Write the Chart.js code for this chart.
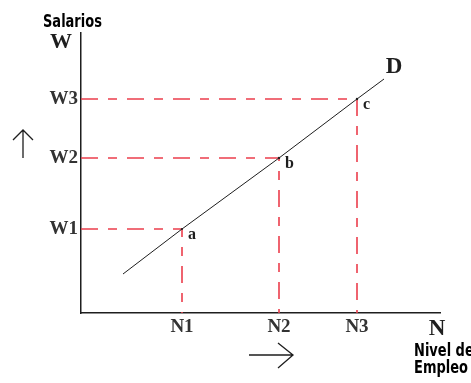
<!DOCTYPE html>
<html>
<head>
<meta charset="utf-8">
<script src="https://cdn.jsdelivr.net/npm/chart.js@4.4.1/dist/chart.umd.min.js"></script>
<style>
  html, body { margin: 0; padding: 0; background: #fff; }
  #wrap { width: 471px; height: 383px; position: relative; }
</style>
</head>
<body>
<div id="wrap"><canvas id="chart"></canvas></div>
<script>
// Niveles de empleo y salarios marcados en los ejes
const employLabels = ['N1', 'N2', 'N3'];
const wageLabels = ['W1', 'W2', 'W3'];
const employment = [101, 198, 276];
const wages = [84, 155, 214];
const pointNames = ['a', 'b', 'c'];

// Recta D (inicio, a, b, c, final)
const curveN = [42, 101, 198, 276, 303];
const curveW = [39, 84, 155, 214, 234];

const RED = 'rgb(236, 62, 76)';
const INK = '#1e1e1e';
const SERIF = '"Liberation Serif", "DejaVu Serif", serif';
const CONDENSED = '"DejaVu Sans Condensed", "DejaVu Sans", sans-serif';

// Líneas guía punteadas: desde el eje W hasta el punto y bajando al eje N
const guides = employment.map((n, i) => ({
  data: [{ x: 0, y: wages[i] }, { x: n, y: wages[i] }, { x: n, y: 0 }],
  borderColor: RED,
  borderWidth: 1.6,
  borderDash: [17, 10, 9, 10],
  pointRadius: 0,
  clip: false,
  order: 2
}));

const demand = {
  data: curveN.map((n, i) => ({ x: n, y: curveW[i] })),
  borderColor: INK,
  borderWidth: 1,
  pointRadius: [0, 1, 1.2, 1.2, 0],
  pointBackgroundColor: INK,
  pointBorderWidth: 0,
  order: 0
};

function text(ctx, str, x, y, font, align) {
  ctx.font = font;
  ctx.textAlign = align || 'left';
  ctx.textBaseline = 'alphabetic';
  ctx.fillText(str, x, y);
}

// texto estrecho: se comprime en horizontal
function narrow(ctx, str, x, y) {
  ctx.save();
  ctx.translate(x, y);
  ctx.scale(0.85, 1);
  text(ctx, str, 0, 0, 'bold 17px ' + CONDENSED);
  ctx.restore();
}

// Letras de los puntos, títulos de ejes y flechas
const annotations = {
  id: 'annotations',
  afterDatasetsDraw(chart) {
    const ctx = chart.ctx;
    const xs = chart.scales.x;
    const ys = chart.scales.y;
    ctx.save();
    ctx.fillStyle = INK;

    pointNames.forEach((name, i) => {
      const px = xs.getPixelForValue(employment[i]);
      const py = ys.getPixelForValue(wages[i]);
      text(ctx, name, px + 6, py + 10, 'bold 16px ' + SERIF);
    });

    const last = curveN.length - 1;
    const ex = xs.getPixelForValue(curveN[last]);
    const ey = ys.getPixelForValue(curveW[last]);
    text(ctx, 'D', ex + 10, ey - 6, 'bold 23px ' + SERIF, 'center');

    text(ctx, 'W', 61, 48, 'bold 22px ' + SERIF, 'center');
    text(ctx, 'N', 437, 335, 'bold 23px ' + SERIF, 'center');

    ctx.fillStyle = '#000';
    narrow(ctx, 'Salarios', 43, 27);
    narrow(ctx, 'Nivel de', 414, 356);
    narrow(ctx, 'Empleo', 414, 373);

    // flechas
    ctx.strokeStyle = INK;
    ctx.lineWidth = 1.3;
    ctx.beginPath();
    ctx.moveTo(23, 158); ctx.lineTo(23, 130);
    ctx.moveTo(13, 140); ctx.lineTo(23, 130); ctx.lineTo(33, 140);
    ctx.moveTo(249, 355); ctx.lineTo(293, 355);
    ctx.moveTo(278, 343); ctx.lineTo(293, 355); ctx.lineTo(278, 368);
    ctx.stroke();
    ctx.restore();
  }
};

const tickFont = { family: SERIF, size: 19, weight: 'bold' };

new Chart(document.getElementById('chart'), {
  type: 'line',
  data: { datasets: [demand, ...guides] },
  options: {
    responsive: true,
    maintainAspectRatio: false,
    animation: false,
    layout: { padding: { top: 33, right: 31, left: 0, bottom: 0 } },
    plugins: { legend: { display: false }, tooltip: { enabled: false } },
    scales: {
      x: {
        type: 'linear',
        min: 0,
        max: 359,
        afterFit: s => { s.height = 70; },
        afterBuildTicks: s => { s.ticks = employment.map(v => ({ value: v })); },
        grid: { display: false, drawTicks: false },
        border: { display: true, color: INK, width: 1.5 },
        ticks: {
          autoSkip: false,
          maxRotation: 0,
          padding: 3,
          color: '#333',
          font: tickFont,
          callback: (v, i) => employLabels[i]
        }
      },
      y: {
        type: 'linear',
        min: 0,
        max: 280,
        afterFit: s => { s.width = 81; },
        afterBuildTicks: s => { s.ticks = wages.map(v => ({ value: v })); },
        grid: { display: false, drawTicks: false },
        border: { display: true, color: INK, width: 1.5 },
        ticks: {
          autoSkip: false,
          padding: 3,
          color: '#333',
          font: tickFont,
          callback: (v, i) => wageLabels[i]
        }
      }
    }
  },
  plugins: [annotations]
});
</script>
</body>
</html>
